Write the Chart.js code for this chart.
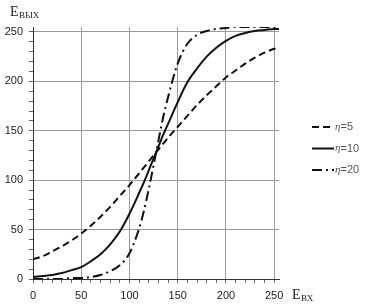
<!DOCTYPE html>
<html>
<head>
<meta charset="utf-8">
<script src="https://cdn.jsdelivr.net/npm/chart.js@4.4.1/dist/chart.umd.min.js"></script>
<style>
  html, body { margin: 0; padding: 0; background: #fff; }
  #wrap { width: 374px; height: 304px; }
</style>
</head>
<body>
<div id="wrap"><canvas id="curveChart" width="374" height="304"></canvas></div>
<script>
// input brightness E_вх
const eIn = [0, 10, 20, 30, 40, 50, 60, 70, 80, 90, 100, 110, 115, 120, 125, 130, 135, 140, 150, 160, 170, 180, 190, 200, 210, 220, 230, 240, 250, 255];

// output brightness E_вых for each eta
const eta5  = [20, 23, 28, 33, 39, 46, 54, 63, 73, 84, 95, 107, 113, 119, 125, 131, 137, 143, 154, 165, 176, 186, 195, 204, 211, 218, 224, 229, 233, 235];
const eta10 = [2, 3, 4, 6, 9, 12, 18, 25, 35, 48, 66, 87, 98, 110, 122, 134, 146, 157, 179, 199, 213, 225, 234, 241, 246, 249, 251, 252, 253, 253];
const eta20 = [0, 0, 0, 0, 1, 1, 2, 4, 8, 14, 26, 51, 69, 91, 115, 140, 164, 184, 218, 238, 247, 251, 253, 254, 255, 255, 255, 255, 255, 255];

const seriesLabels = ['η=5', 'η=10', 'η=20'];
const axisTicks = [0, 50, 100, 150, 200, 250];

function toPoints(ys) {
    return eIn.map((x, i) => ({ x: x, y: ys[i] }));
}

// axis names and legend, drawn by hand
const extrasPlugin = {
    id: 'extras',
    afterDraw(chart) {
        const ctx = chart.ctx;
        ctx.save();
        ctx.fillStyle = '#222';
        ctx.textBaseline = 'alphabetic';
        // E вых (top left)
        ctx.font = '14px "Liberation Serif"';
        ctx.fillText('E', 10, 16);
        ctx.font = '9px "Liberation Serif"';
        ctx.fillText('ВЫХ', 19, 18);
        // E вх (bottom right)
        ctx.font = '14px "Liberation Serif"';
        ctx.fillText('E', 292, 299);
        ctx.font = '9px "Liberation Serif"';
        ctx.fillText('ВХ', 301, 301);

        // legend
        chart.data.datasets.forEach((ds, i) => {
            let y = 127 + i * 21.5;
            ctx.strokeStyle = '#111';
            ctx.lineWidth = 2;
            ctx.setLineDash(ds.borderDash || []);
            ctx.beginPath();
            ctx.moveTo(312, y);
            ctx.lineTo(334, y);
            ctx.stroke();
            ctx.setLineDash([]);
            ctx.fillStyle = '#555';
            ctx.textBaseline = 'middle';
            ctx.font = 'italic 11px "Liberation Serif"';
            ctx.fillText(ds.label[0], 335, y);
            let w = ctx.measureText(ds.label[0]).width;
            ctx.font = '11px "Liberation Sans"';
            ctx.fillText(ds.label.slice(1), 335 + w, y);
        });
        ctx.restore();
    }
};

function gridColor(c) {
    return c.tick && c.tick.value % 50 === 0 ? '#9a9a9a' : 'rgba(0,0,0,0)';
}

const ctx = document.getElementById('curveChart').getContext('2d');
let curveChart = new Chart(ctx, {
    type: 'line',
    data: {
        datasets: [
            { label: seriesLabels[0], data: toPoints(eta5), borderDash: [7, 4] },
            { label: seriesLabels[1], data: toPoints(eta10) },
            { label: seriesLabels[2], data: toPoints(eta20), borderDash: [10, 4, 2, 4] }
        ].map(d => Object.assign(d, {
            borderColor: '#111',
            borderWidth: 2,
            pointRadius: 0,
            fill: false,
            cubicInterpolationMode: 'monotone'
        }))
    },
    options: {
        responsive: false,
        animation: false,
        layout: { padding: { top: 27, right: 95, left: 0, bottom: 0 } },
        plugins: { legend: { display: false }, tooltip: { enabled: false } },
        scales: {
            x: {
                type: 'linear',
                min: 0,
                max: 255,
                afterFit: s => { s.height = 25; },
                border: { color: '#333', width: 1 },
                grid: { color: gridColor, tickColor: '#666', tickLength: 4 },
                ticks: {
                    stepSize: 10,
                    includeBounds: false,
                    autoSkip: false,
                    maxRotation: 0,
                    padding: 6,
                    color: '#222',
                    font: { family: 'Liberation Sans', size: 11 },
                    callback: v => axisTicks.includes(v) ? v : ''
                }
            },
            y: {
                type: 'linear',
                min: 0,
                max: 255,
                afterFit: s => { s.width = 33; },
                border: { color: '#333', width: 1 },
                grid: { color: gridColor, tickColor: '#666', tickLength: 4 },
                ticks: {
                    stepSize: 10,
                    includeBounds: false,
                    autoSkip: false,
                    padding: 6,
                    color: '#222',
                    font: { family: 'Liberation Sans', size: 11 },
                    callback: v => axisTicks.includes(v) ? v : ''
                }
            }
        }
    },
    plugins: [extrasPlugin]
});
</script>
</body>
</html>
